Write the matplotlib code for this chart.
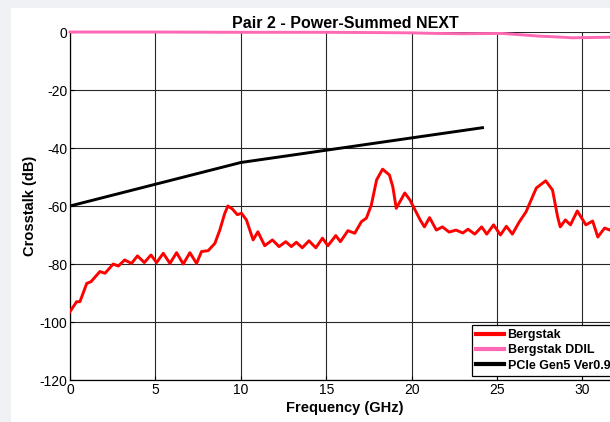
import matplotlib
matplotlib.use('Agg')
import matplotlib.pyplot as plt
from matplotlib.patches import Rectangle

plt.rcParams['font.family'] = ['Liberation Sans', 'DejaVu Sans']
plt.rcParams['axes.unicode_minus'] = False

# Bergstak NEXT (red)
freq_next = [0, 0.39, 0.58, 0.98, 1.23, 1.75, 2.05, 2.53, 2.83, 3.2, 3.6, 3.95,
             4.35, 4.74, 5.07, 5.46, 5.85, 6.24, 6.63, 7.02, 7.41, 7.7, 8.09,
             8.48, 8.77, 9.05, 9.24, 9.5, 9.8, 10.04, 10.33, 10.72, 11.0, 11.4,
             11.85, 12.24, 12.63, 12.96, 13.25, 13.6, 13.99, 14.39, 14.78, 15.1,
             15.56, 15.83, 16.27, 16.67, 17.06, 17.35, 17.64, 17.95, 18.3, 18.7,
             18.9, 19.1, 19.6, 19.9, 20.5, 20.75, 21.05, 21.45, 21.8, 22.2, 22.6,
             23.0, 23.3, 23.7, 24.1, 24.4, 24.8, 25.2, 25.55, 25.9, 26.3, 26.7,
             27.3, 27.85, 28.25, 28.55, 28.7, 29.0, 29.3, 29.7, 30.2, 30.6, 30.9,
             31.3, 31.6, 32.0, 32.3]
db_next = [-96.4, -93, -93, -86.7, -86.1, -82.6, -83.2, -80, -80.7, -78.6, -79.8,
           -77.2, -79.5, -76.9, -79.5, -76.3, -79.8, -76.1, -80, -76.1, -79.8,
           -75.7, -75.4, -72.9, -68.3, -62.7, -60, -61, -63, -62.5, -64.8, -71.7,
           -68.9, -73.7, -71.7, -74, -72.3, -74, -72.5, -74.4, -72, -74.4, -71.1,
           -73.7, -70.2, -72.3, -68.5, -69.4, -65.4, -64.2, -59.7, -51, -47.3,
           -49.3, -53.4, -60.8, -55.5, -57.9, -64.8, -67.2, -64, -68.3, -67.2,
           -69, -68.3, -69.3, -68, -69.7, -67.2, -69.7, -66.5, -70, -67, -69.7,
           -65.5, -62, -53.8, -51.3, -54.5, -63.8, -67.2, -64.8, -66.5, -61.7,
           -66.5, -65.2, -70.7, -67.6, -68.3, -67, -68]

# Bergstak DDIL (pink)
freq_ddil = [0, 5, 10, 15, 18, 20, 21.5, 23, 25.3, 26.5, 27.4, 28.5, 29.4, 30.5, 31.6, 32.3]
db_ddil = [0, 0, -0.1, -0.1, -0.2, -0.3, -0.5, -0.6, -0.5, -1.0, -1.4, -1.7, -2.0, -1.9, -1.8, -1.8]

# PCIe limit (black)
freq_spec = [0, 10, 24.15]
db_spec = [-60, -45, -33]

labels = ['Bergstak', 'Bergstak DDIL', 'PCIe Gen5 Ver0.9']

fig = plt.figure(figsize=(6.1, 4.22), dpi=100, facecolor='#eff1f5')
fig.patches.append(Rectangle((11/610, 0), 1, (422-8)/422, transform=fig.transFigure,
                             facecolor='white', edgecolor='none', zorder=-5))

ax = fig.add_axes([70/610, 42/422, 550/610, 348/422])
ax.patch.set_alpha(0)
ax.plot(freq_next, db_next, color='#ff0000', lw=2.1, label=labels[0], zorder=3)
ax.plot(freq_ddil, db_ddil, color='#ff69b4', lw=2.1, label=labels[1], zorder=3, clip_on=False)
ax.plot(freq_spec, db_spec, color='black', lw=2.1, label=labels[2], zorder=3)

ax.set_xlim(0, 32.2)
ax.set_ylim(-120, 0)
ax.set_xticks(range(0, 35, 5))
ax.set_yticks(range(-120, 1, 20))
ax.grid(True, color='0.15', lw=0.8)
ax.tick_params(direction='in', length=3, labelsize=10, pad=2, colors='black')
for s in ax.spines.values():
    s.set_linewidth(0.9)
ax.spines['top'].set_visible(False)

ax.set_title('Pair 2 - Power-Summed NEXT', fontsize=11.5, fontweight='bold', pad=3)
ax.set_xlabel('Frequency (GHz)', fontsize=10.5, fontweight='bold', labelpad=3)
ax.set_ylabel('Crosstalk (dB)', fontsize=10.5, fontweight='bold', labelpad=2)

leg = ax.legend(loc='lower left', bbox_to_anchor=(472/610, 46/422),
                bbox_transform=fig.transFigure, borderaxespad=0,
                fancybox=False, framealpha=1, edgecolor='black',
                prop={'size': 9, 'weight': 'bold'}, handlelength=2.2,
                handletextpad=0.3, borderpad=0.35, labelspacing=0.25)
leg.get_frame().set_linewidth(0.9)
for h in leg.get_lines():
    h.set_linewidth(3)
leg.set_zorder(5)

fig.savefig('out.png', dpi=100, facecolor=fig.get_facecolor())
